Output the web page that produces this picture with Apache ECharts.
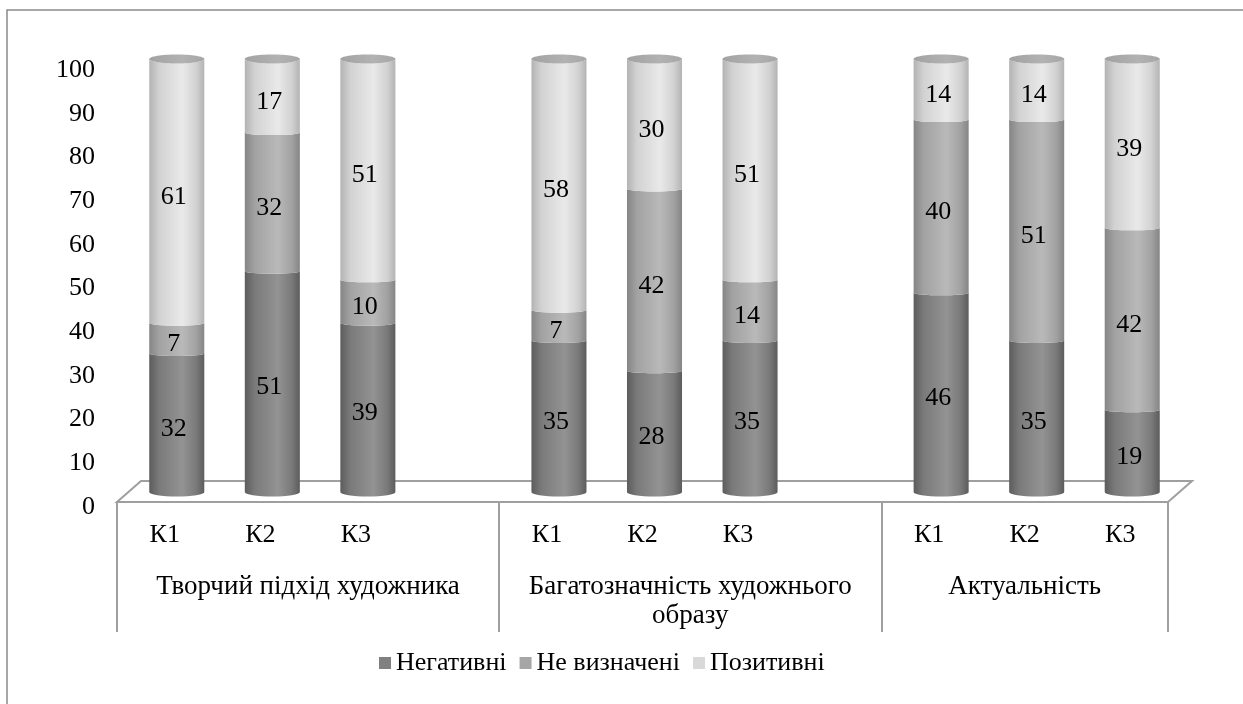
<!DOCTYPE html>
<html>
<head>
<meta charset="utf-8">
<script src="https://cdn.jsdelivr.net/npm/echarts@6/dist/echarts.min.js"></script>
<style>
  html, body { margin: 0; padding: 0; background: #fff; }
  #chart { width: 1243px; height: 704px; }
</style>
</head>
<body>
<div id="chart"></div>
<script>
// Criteria groups and the three measurements (К1–К3) inside each group
const groups = ['Творчий підхід художника', 'Багатозначність художнього\nобразу', 'Актуальність'];
const criteria = ['К1', 'К2', 'К3'];
const seriesNames = ['Негативні', 'Не визначені', 'Позитивні'];

// Percent shares, listed group by group: К1, К2, К3
const negative     = [32, 51, 39, 35, 28, 35, 46, 35, 19];
const undetermined = [ 7, 32, 10,  7, 42, 14, 40, 51, 42];
const positive     = [61, 17, 51, 58, 30, 51, 14, 14, 39];

const yTicks = { min: 0, max: 100, step: 10 };

// ---- layout / style constants ----
const FONT = 'Liberation Serif, Times New Roman, serif';
const FS = 26;
const FS_GROUP = 27;
const BAR_RATIO = 0.576;          // cylinder width relative to a category slot
const RY_EDGE = 4.5;              // ellipse half-height at the floor and the top cap
const RY_INNER = 2.5;             // ellipse half-height at inner segment joins
const palettes = [
  { legend: '#808080', edge: '#5c5c5c', mid: '#7a7a7a', light: '#939393' },
  { legend: '#a6a6a6', edge: '#858585', mid: '#a2a2a2', light: '#b9b9b9' },
  { legend: '#d9d9d9', edge: '#b3b3b3', mid: '#d2d2d2', light: '#e9e9e9' }
];

// slot layout: each group followed by an empty slot (except the last)
const categories = [];
const slotOf = [];
groups.forEach((g, gi) => {
  criteria.forEach((c, ci) => {
    slotOf.push(categories.length);
    categories.push(c);
  });
  if (gi < groups.length - 1) categories.push('');
});
// centre of each group in slot units
const groupCenters = groups.map((g, gi) => {
  const first = slotOf[gi * criteria.length];
  const last = slotOf[gi * criteria.length + criteria.length - 1];
  const end = gi < groups.length - 1 ? last + 2 : last + 1;
  return (first + end) / 2;
});

const valueSets = [negative, undetermined, positive];
const seriesData = valueSets.map((vals, si) =>
  vals.map((v, i) => {
    let base = 0;
    for (let k = 0; k < si; k++) base += valueSets[k][i];
    return [slotOf[i], base, v];
  })
);

function cylGradient(p) {
  return new echarts.graphic.LinearGradient(0, 0, 1, 0, [
    { offset: 0, color: p.edge },
    { offset: 0.18, color: p.mid },
    { offset: 0.6, color: p.light },
    { offset: 0.85, color: p.mid },
    { offset: 1, color: p.edge }
  ]);
}

function makeRenderer(si) {
  const pal = palettes[si];
  return function (params, api) {
    const idx = api.value(0), base = api.value(1), val = api.value(2);
    const total = base + val;
    const pBot = api.coord([idx, base]);
    const pTop = api.coord([idx, total]);
    const w = api.size([1, 0])[0] * BAR_RATIO;
    const cx = pBot[0];
    const xL = cx - w / 2, xR = cx + w / 2, rx = w / 2;
    const ryB = base === 0 ? RY_EDGE : RY_INNER;
    const isTop = total >= yTicks.max - 1e-9;
    const ryT = isTop ? RY_EDGE : RY_INNER;
    const yB = pBot[1], yT = pTop[1];
    const d = 'M' + xL + ' ' + yT +
      ' L' + xL + ' ' + yB +
      ' A' + rx + ' ' + ryB + ' 0 0 0 ' + xR + ' ' + yB +
      ' L' + xR + ' ' + yT +
      ' A' + rx + ' ' + ryT + ' 0 0 1 ' + xL + ' ' + yT + ' Z';
    const children = [{
      type: 'path',
      shape: { pathData: d },
      style: { fill: cylGradient(pal), stroke: null }
    }];
    if (isTop) {
      children.push({
        type: 'ellipse',
        shape: { cx: cx, cy: yT, rx: rx, ry: ryT },
        style: {
          fill: new echarts.graphic.LinearGradient(0, 0, 1, 0, [
            { offset: 0, color: '#a2a2a2' },
            { offset: 0.6, color: '#b2b2b2' },
            { offset: 1, color: '#a6a6a6' }
          ])
        }
      });
    }
    children.push({
      type: 'text',
      style: {
        text: String(val),
        x: cx - 3,
        y: (yT + yB) / 2 + 6,
        align: 'center',
        verticalAlign: 'middle',
        fontSize: FS,
        fontFamily: FONT,
        fill: '#000'
      }
    });
    return { type: 'group', children: children };
  };
}

const chart = echarts.init(document.getElementById('chart'), null, { renderer: 'canvas' });

// floor / plot geometry
const AX = { left: 117, right: 75, base: 502 };
const BARS = { left: 129, right: 63, top: 59, bottom: 704 - 492 };
const YLAB = { top: 70, bottom: 704 - 507 };
const DEPTH = { dx: 24, dy: 21 };

const option = {
  backgroundColor: '#fff',
  animation: false,
  textStyle: { fontFamily: FONT },
  grid: [
    { left: AX.left, right: AX.right, top: 70, bottom: 704 - AX.base },
    { left: BARS.left, right: BARS.right, top: BARS.top, bottom: BARS.bottom },
    { left: AX.left, right: AX.right, top: YLAB.top, bottom: YLAB.bottom }
  ],
  xAxis: [
    {
      gridIndex: 0, type: 'category', data: categories, boundaryGap: true,
      axisLine: { show: true, lineStyle: { color: '#9f9f9f', width: 2 } },
      axisTick: {
        show: true, length: 130,
        interval: (i) => i % (criteria.length + 1) === 0,
        lineStyle: { color: '#9f9f9f', width: 2 }
      },
      axisLabel: { interval: 0, margin: 20, color: '#000', fontSize: FS, fontFamily: FONT }
    },
    {
      gridIndex: 0, type: 'value', min: 0, max: categories.length, interval: 0.5,
      position: 'bottom',
      axisLine: { show: false }, axisTick: { show: false }, splitLine: { show: false },
      axisLabel: {
        margin: 70, color: '#000', fontSize: FS_GROUP, fontFamily: FONT, lineHeight: 29,
        showMinLabel: true, showMaxLabel: true,
        formatter: (v) => {
          const gi = groupCenters.findIndex(c => Math.abs(c - v) < 1e-6);
          return gi >= 0 ? groups[gi] : '';
        }
      }
    },
    { gridIndex: 1, type: 'category', data: categories, show: false },
    { gridIndex: 2, type: 'value', show: false }
  ],
  yAxis: [
    { gridIndex: 0, type: 'value', show: false, min: 0, max: 100, splitLine: { show: false } },
    { gridIndex: 1, type: 'value', show: false, min: yTicks.min, max: yTicks.max, splitLine: { show: false } },
    {
      gridIndex: 2, type: 'value', min: yTicks.min, max: yTicks.max, interval: yTicks.step,
      axisLine: { show: false }, axisTick: { show: false }, splitLine: { show: false },
      axisLabel: { margin: 22, color: '#000', fontSize: FS, fontFamily: FONT }
    }
  ],
  legend: {
    left: 379, top: 649, padding: 0,
    icon: 'rect', itemWidth: 12, itemHeight: 12, itemGap: 13,
    textStyle: { color: '#000', fontSize: FS, fontFamily: FONT, lineHeight: 28 },
    data: seriesNames
  },
  graphic: [
    {
      type: 'rect', z: -10, silent: true,
      shape: { x: 7, y: 10, width: 1260, height: 720 },
      style: { fill: 'none', stroke: '#8a8a8a', lineWidth: 1.5 }
    },
    {
      type: 'polygon', z: 0, silent: true,
      shape: {
        points: [
          [AX.left, AX.base],
          [1243 - AX.right, AX.base],
          [1243 - AX.right + DEPTH.dx, AX.base - DEPTH.dy],
          [AX.left + DEPTH.dx, AX.base - DEPTH.dy]
        ]
      },
      style: { fill: '#fff', stroke: '#9f9f9f', lineWidth: 2 }
    }
  ],
  series: seriesNames.map((name, si) => ({
    name: name,
    type: 'custom',
    xAxisIndex: 2,
    yAxisIndex: 1,
    z: 5,
    itemStyle: { color: palettes[si].legend },
    encode: { x: 0, y: [1, 2] },
    data: seriesData[si],
    renderItem: makeRenderer(si)
  }))
};

chart.setOption(option);
</script>
</body>
</html>
